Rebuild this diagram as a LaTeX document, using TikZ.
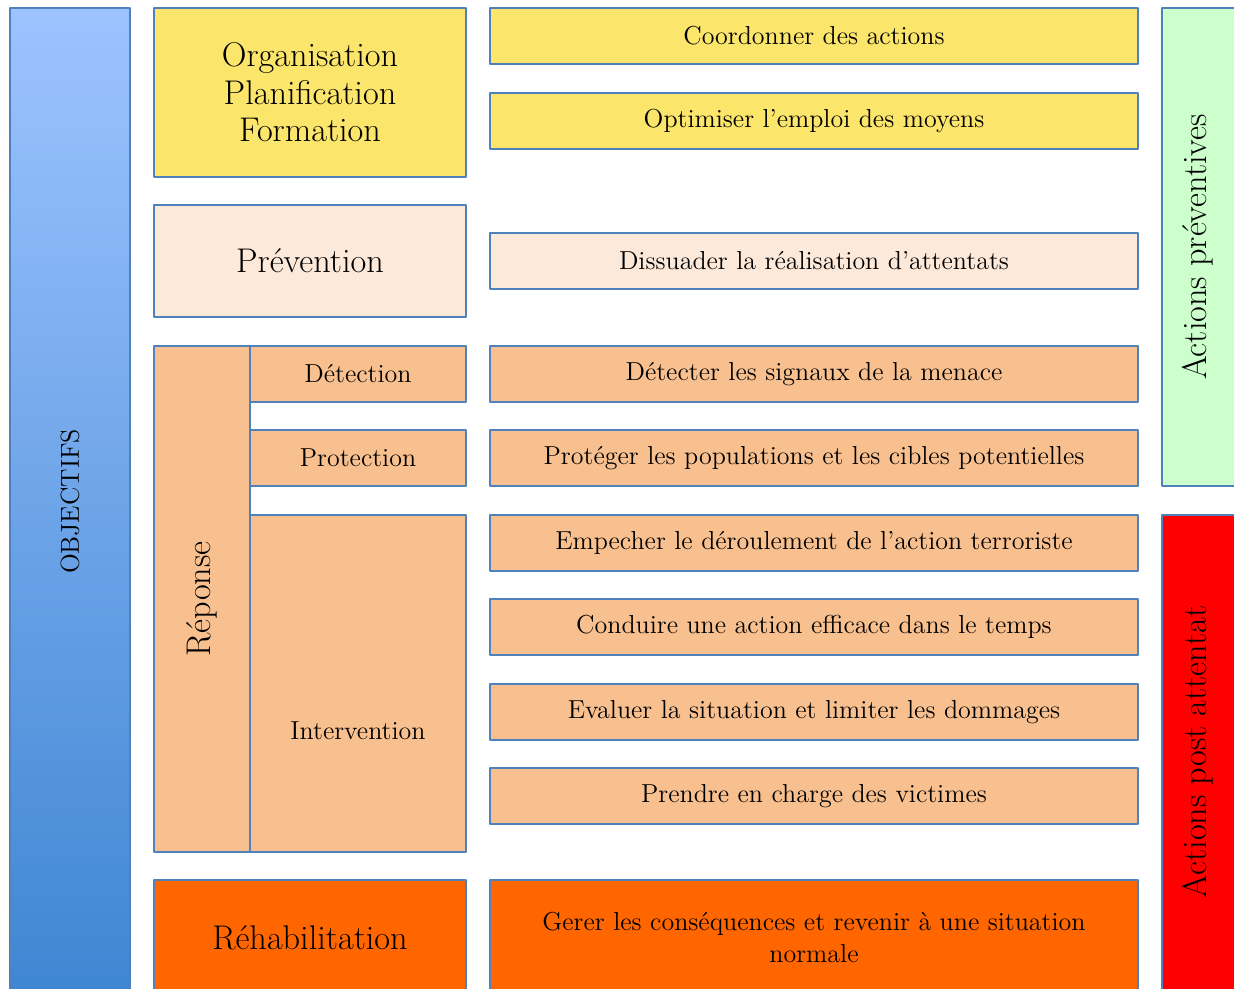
\documentclass[tikz,border=0pt]{standalone}
\definecolor{bordure}{RGB}{79,129,189}
\definecolor{jaune}{RGB}{251,229,107}
\definecolor{rose}{RGB}{253,233,217}
\definecolor{peche}{RGB}{249,192,143}
\definecolor{orange}{RGB}{255,102,0}
\definecolor{vert}{RGB}{204,255,204}
\definecolor{rouge}{RGB}{255,0,0}
\definecolor{bleuclair}{RGB}{157,195,255}
\definecolor{bleufonce}{RGB}{63,134,210}
\newcommand\moyen{\fontsize{14.8}{18.2}\selectfont}
\newcommand\grand{\fontsize{19.5}{21.3}\selectfont}
\begin{document}
\begin{tikzpicture}[x=0.02cm, y=-0.02cm, line join=round]
			\tikzset{bloc/.style={draw=bordure, line width=1.2pt, inner sep=2pt, align=center, font=\moyen},
				wh/.style 2 args={minimum width=#1*0.02cm, minimum height=#2*0.02cm},
				gros/.style={font=\grand}}
			\useasboundingbox (0,0) rectangle (1234,988);
			\clip (0,0) rectangle (1234,988);
			% colonne des objectifs
			\node[bloc, top color=bleuclair, bottom color=bleufonce, wh={120}{987}] (obj) at (70,501.5) {};
			\node[rotate=90, font=\moyen] (objtxt) at (obj.center) {OBJECTIFS};
			% phases
			\node[bloc, gros, fill=jaune, wh={312}{169}] (orga) at (310,92.5) {Organisation\\Planification\\Formation};
			\node[bloc, gros, fill=rose, wh={312}{112}] (prev) at (310,261) {Prévention};
			\node[bloc, fill=peche, wh={96}{506}] (rep) at (202,599) {};
			\node[rotate=90, font=\grand] (reptxt) at (rep.center) {Réponse};
			\node[bloc, fill=peche, wh={216}{56}] (det) at (358,374) {Détection};
			\node[bloc, fill=peche, wh={216}{56}] (prot) at (358,458) {Protection};
			\node[bloc, fill=peche, wh={216}{337}] (interv) at (358,683.5) {};
			\node[font=\moyen] (intervtxt) at (358,731) {Intervention};
			\node[bloc, gros, fill=orange, wh={312}{115}] (rehab) at (310,937.5) {Réhabilitation};
			% actions
			\node[bloc, fill=jaune, wh={648}{56}] (coord) at (814,36) {Coordonner des actions};
			\node[bloc, fill=jaune, wh={648}{56}] (optim) at (814,121) {Optimiser l’emploi des moyens};
			\node[bloc, fill=rose, wh={648}{56}] (diss) at (814,261) {Dissuader la réalisation d’attentats};
			\node[bloc, fill=peche, wh={648}{56}] (detect) at (814,374) {Détecter les signaux de la menace};
			\node[bloc, fill=peche, wh={648}{56}] (proteg) at (814,458) {Protéger les populations et les cibles potentielles};
			\node[bloc, fill=peche, wh={648}{56}] (emp) at (814,543) {Empecher le déroulement de l’action terroriste};
			\node[bloc, fill=peche, wh={648}{56}] (cond) at (814,627) {Conduire une action efficace dans le temps};
			\node[bloc, fill=peche, wh={648}{56}] (eval) at (814,712) {Evaluer la situation et limiter les dommages};
			\node[bloc, fill=peche, wh={648}{56}] (prise) at (814,796) {Prendre en charge des victimes};
			\node[bloc, fill=orange, wh={648}{115}] (gerer) at (814,937.5) {Gerer les conséquences et revenir à une situation\\normale};
			% types d'actions
			\node[bloc, fill=vert, wh={76}{478}] (apre) at (1200,247) {};
			\node[rotate=90, font=\grand] (apretxt) at (1198,247) {Actions préventives};
			\node[bloc, fill=rouge, wh={76}{480}] (apost) at (1200,755) {};
			\node[rotate=90, font=\grand] (aposttxt) at (1198,752) {Actions post attentat};
		\end{tikzpicture}
\end{document}
